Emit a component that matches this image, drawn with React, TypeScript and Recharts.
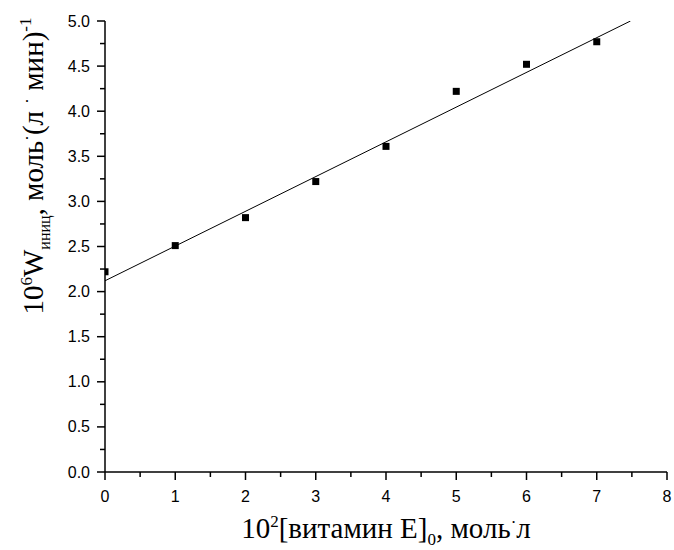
import { Scatter, ScatterChart, XAxis, YAxis } from "recharts";

// vitamin E concentration, 10^2 mol/l
const concentrations = [0, 1, 2, 3, 4, 5, 6, 7];
// initiation rate, 10^6 W
const rates = [2.22, 2.51, 2.82, 3.22, 3.61, 4.22, 4.52, 4.77];

// end points of the fitted straight line
const fitX = [0, 7.48];
const fitY = [2.12, 5.0];

const X_DOMAIN: [number, number] = [0, 8];
const Y_DOMAIN: [number, number] = [0, 5];

const xTicks = [0, 0.5, 1, 1.5, 2, 2.5, 3, 3.5, 4, 4.5, 5, 5.5, 6, 6.5, 7, 7.5, 8];
const yTicks = [
  0, 0.25, 0.5, 0.75, 1, 1.25, 1.5, 1.75, 2, 2.25, 2.5, 2.75, 3, 3.25, 3.5,
  3.75, 4, 4.25, 4.5, 4.75, 5,
];

const points = concentrations.map((x, i) => ({ x, y: rates[i] }));
const fitLine = fitX.map((x, i) => ({ x, y: fitY[i] }));

const SANS = "'Liberation Sans', Arial, sans-serif";
const SERIF = "'Liberation Serif', 'Times New Roman', serif";

const isMajor = (v: number, step: number) =>
  Math.abs(v / step - Math.round(v / step)) < 1e-6;

// eslint-disable-next-line @typescript-eslint/no-explicit-any
function XTick(props: any) {
  const { x, y, payload } = props;
  const major = isMajor(payload.value, 1);
  return (
    <g>
      <line x1={x} y1={y} x2={x} y2={y + (major ? 8 : 5)} stroke="#000" strokeWidth={1.5} />
      {major && (
        <text x={x} y={y + 30} textAnchor="middle" fontFamily={SANS} fontSize={16} fill="#000">
          {payload.value}
        </text>
      )}
    </g>
  );
}

// eslint-disable-next-line @typescript-eslint/no-explicit-any
function YTick(props: any) {
  const { x, y, payload } = props;
  const major = isMajor(payload.value, 0.5);
  return (
    <g>
      <line x1={x} y1={y} x2={x - (major ? 8 : 5)} y2={y} stroke="#000" strokeWidth={1.5} />
      {major && (
        <text x={x - 15} y={y + 5.5} textAnchor="end" fontFamily={SANS} fontSize={16} fill="#000">
          {payload.value.toFixed(1)}
        </text>
      )}
    </g>
  );
}

// square marker; the one sitting on the y axis is cut at the axis
// eslint-disable-next-line @typescript-eslint/no-explicit-any
function SquareDot(props: any) {
  const { cx, cy, payload } = props;
  const onAxis = payload && payload.x <= X_DOMAIN[0];
  const left = onAxis ? cx : cx - 3.5;
  const right = cx + 3.5;
  return <rect x={left} y={cy - 3.5} width={right - left} height={7} fill="#000" />;
}

function NoDot() {
  return <g />;
}

// eslint-disable-next-line @typescript-eslint/no-explicit-any
function XTitle(props: any) {
  const { viewBox } = props;
  const cx = viewBox.x + viewBox.width / 2;
  const y = viewBox.y + 66;
  return (
    <text x={cx} y={y} textAnchor="middle" fontFamily={SERIF} fontSize={29} fill="#000">
      10
      <tspan fontSize={17} dy={-11}>2</tspan>
      <tspan dy={11}>[витамин E]</tspan>
      <tspan fontSize={17} dy={7}>0</tspan>
      <tspan dy={-7}>, моль</tspan>
      <tspan fontSize={17} dy={-10}>·</tspan>
      <tspan dy={10}>л</tspan>
    </text>
  );
}

// eslint-disable-next-line @typescript-eslint/no-explicit-any
function YTitle(props: any) {
  const { viewBox } = props;
  const cy = viewBox.y + 145;
  const bx = 43;
  return (
    <g transform={`translate(${bx},${cy}) rotate(-90)`}>
      <text x={0} y={0} textAnchor="middle" fontFamily={SERIF} fontSize={29} fill="#000">
        10
        <tspan fontSize={17} dy={-11}>6</tspan>
        <tspan dy={11}>W</tspan>
        <tspan fontSize={16} dy={7}>иниц</tspan>
        <tspan dy={-7}>, моль</tspan>
        <tspan fontSize={17} dy={-10}>·</tspan>
        <tspan dy={10}>(л </tspan>
        <tspan fontSize={17} dy={-10}>·</tspan>
        <tspan dy={10}> мин)</tspan>
        <tspan fontSize={17} dy={-12}>-1</tspan>
      </text>
    </g>
  );
}

export default function App() {
  return (
    <div style={{ position: "absolute", left: 0, top: 0, width: 674, height: 550, background: "#fff" }}>
      <ScatterChart width={674} height={550} margin={{ top: 21, right: 7, bottom: 48, left: 45 }}>
        <XAxis
          type="number"
          dataKey="x"
          domain={X_DOMAIN}
          ticks={xTicks}
          interval={0}
          allowDataOverflow
          height={30}
          tickSize={0}
          tickMargin={0}
          tickLine={false}
          axisLine={{ stroke: "#000", strokeWidth: 1.5 }}
          tick={<XTick />}
          label={<XTitle />}
        />
        <YAxis
          type="number"
          dataKey="y"
          domain={Y_DOMAIN}
          ticks={yTicks}
          interval={0}
          allowDataOverflow
          width={60}
          tickSize={0}
          tickMargin={0}
          tickLine={false}
          axisLine={{ stroke: "#000", strokeWidth: 1.5 }}
          tick={<YTick />}
          label={<YTitle />}
        />
        <Scatter
          data={fitLine}
          line={{ stroke: "#000", strokeWidth: 1 }}
          shape={<NoDot />}
          isAnimationActive={false}
        />
        <Scatter data={points} shape={<SquareDot />} isAnimationActive={false} />
      </ScatterChart>
    </div>
  );
}
